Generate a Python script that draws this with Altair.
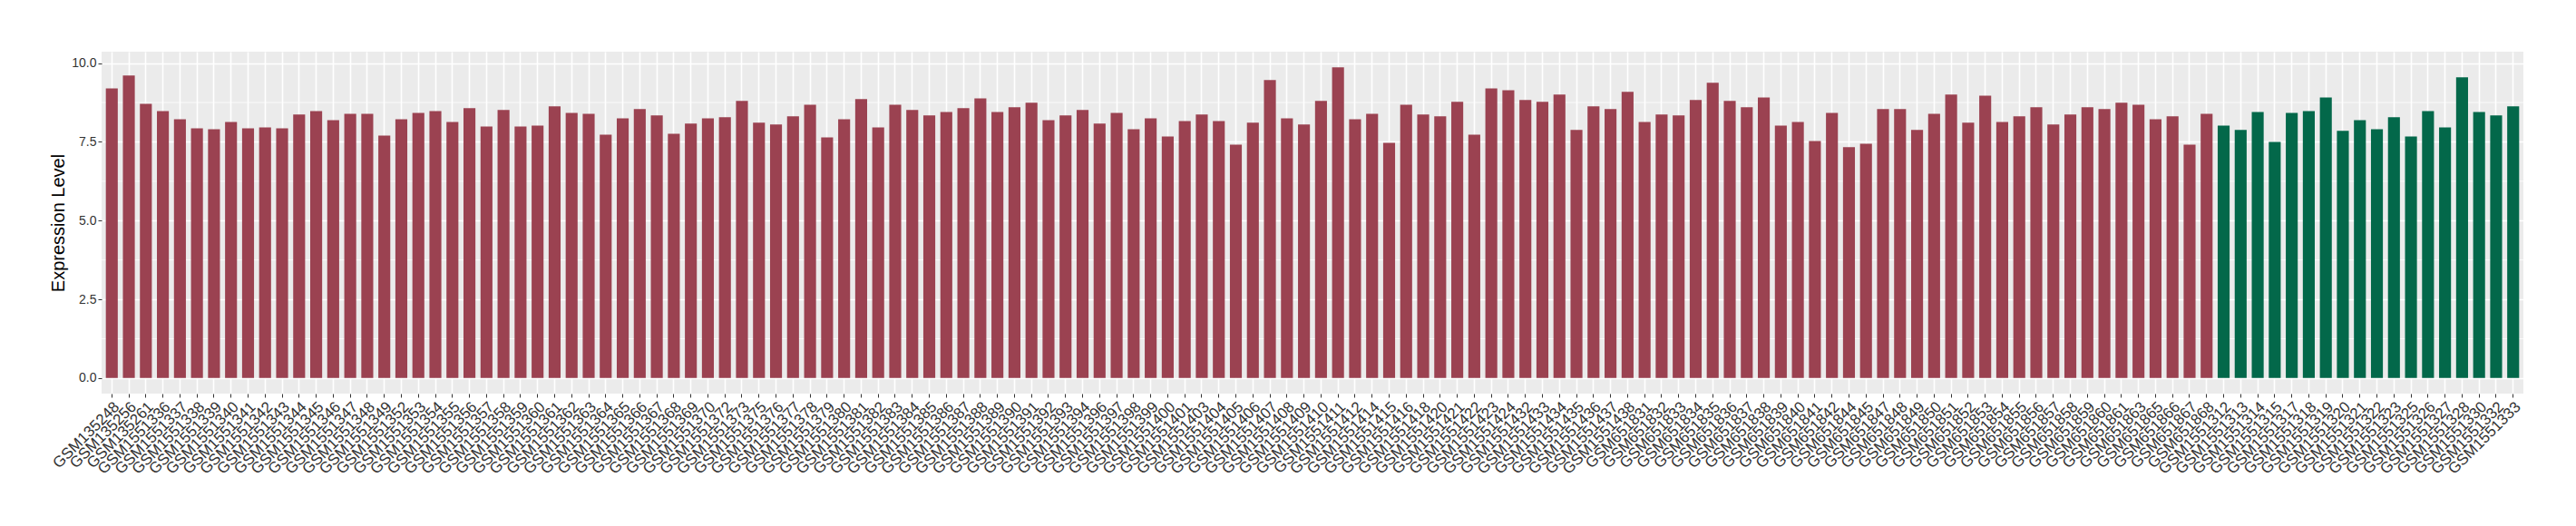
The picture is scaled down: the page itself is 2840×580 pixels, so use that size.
import altair as alt
import pandas as pd

# ---- data ----
group_a_samples = [
    "GSM135248", "GSM135256", "GSM135261", "GSM1551336", "GSM1551337", "GSM1551338",
    "GSM1551339", "GSM1551340", "GSM1551341", "GSM1551342", "GSM1551343", "GSM1551344",
    "GSM1551345", "GSM1551346", "GSM1551347", "GSM1551348", "GSM1551349", "GSM1551352",
    "GSM1551353", "GSM1551354", "GSM1551355", "GSM1551356", "GSM1551357", "GSM1551358",
    "GSM1551359", "GSM1551360", "GSM1551361", "GSM1551362", "GSM1551363", "GSM1551364",
    "GSM1551365", "GSM1551366", "GSM1551367", "GSM1551368", "GSM1551369", "GSM1551370",
    "GSM1551372", "GSM1551373", "GSM1551375", "GSM1551376", "GSM1551377", "GSM1551378",
    "GSM1551379", "GSM1551380", "GSM1551381", "GSM1551382", "GSM1551383", "GSM1551384",
    "GSM1551385", "GSM1551386", "GSM1551387", "GSM1551388", "GSM1551389", "GSM1551390",
    "GSM1551391", "GSM1551392", "GSM1551393", "GSM1551394", "GSM1551396", "GSM1551397",
    "GSM1551398", "GSM1551399", "GSM1551400", "GSM1551401", "GSM1551403", "GSM1551404",
    "GSM1551405", "GSM1551406", "GSM1551407", "GSM1551408", "GSM1551409", "GSM1551410",
    "GSM1551411", "GSM1551412", "GSM1551414", "GSM1551415", "GSM1551416", "GSM1551418",
    "GSM1551420", "GSM1551421", "GSM1551422", "GSM1551423", "GSM1551424", "GSM1551432",
    "GSM1551433", "GSM1551434", "GSM1551435", "GSM1551436", "GSM1551437", "GSM1551438",
    "GSM651831", "GSM651832", "GSM651833", "GSM651834", "GSM651835", "GSM651836",
    "GSM651837", "GSM651838", "GSM651839", "GSM651840", "GSM651841", "GSM651842",
    "GSM651844", "GSM651845", "GSM651847", "GSM651848", "GSM651849", "GSM651850",
    "GSM651851", "GSM651852", "GSM651853", "GSM651854", "GSM651855", "GSM651856",
    "GSM651857", "GSM651858", "GSM651859", "GSM651860", "GSM651861", "GSM651863",
    "GSM651865", "GSM651866", "GSM651867", "GSM651868",
]
group_a_values = [
    9.20, 9.61, 8.71, 8.48, 8.22, 7.93,
    7.90, 8.13, 7.93, 7.96, 7.93, 8.37,
    8.48, 8.19, 8.39, 8.39, 7.70, 8.22,
    8.42, 8.48, 8.13, 8.57, 7.99, 8.51,
    7.99, 8.02, 8.63, 8.42, 8.39, 7.73,
    8.25, 8.54, 8.34, 7.76, 8.08, 8.25,
    8.28, 8.80, 8.11, 8.05, 8.31, 8.68,
    7.64, 8.22, 8.86, 7.96, 8.68, 8.51,
    8.34, 8.45, 8.57, 8.88, 8.45, 8.60,
    8.74, 8.19, 8.34, 8.51, 8.08, 8.42,
    7.90, 8.25, 7.67, 8.16, 8.37, 8.16,
    7.41, 8.11, 9.46, 8.25, 8.05, 8.80,
    9.87, 8.22, 8.39, 7.47, 8.68, 8.37,
    8.31, 8.77, 7.73, 9.20, 9.14, 8.83,
    8.77, 9.00, 7.88, 8.63, 8.54, 9.09,
    8.13, 8.37, 8.34, 8.83, 9.38, 8.80,
    8.60, 8.91, 8.02, 8.13, 7.53, 8.42,
    7.33, 7.44, 8.54, 8.54, 7.88, 8.39,
    9.00, 8.11, 8.97, 8.13, 8.31, 8.60,
    8.05, 8.37, 8.60, 8.54, 8.74, 8.68,
    8.22, 8.31, 7.41, 8.39,
]
group_b_samples = [
    "GSM1551312", "GSM1551313", "GSM1551314", "GSM1551315", "GSM1551317", "GSM1551318",
    "GSM1551319", "GSM1551320", "GSM1551321", "GSM1551322", "GSM1551323", "GSM1551325",
    "GSM1551326", "GSM1551327", "GSM1551328", "GSM1551330", "GSM1551332", "GSM1551333",
]
group_b_values = [
    8.02, 7.88, 8.45, 7.50, 8.42, 8.48,
    8.91, 7.85, 8.19, 7.90, 8.28, 7.67,
    8.48, 7.96, 9.55, 8.45, 8.34, 8.63,
]
group_names = ["Group A", "Group B"]
group_colors = ["#9B4251", "#03684A"]
y_ticks = [0, 2.5, 5, 7.5, 10]
y_minor = [1.25, 3.75, 6.25, 8.75]
y_domain = [-0.4935, 10.3635]

df = pd.DataFrame({
    "sample": group_a_samples + group_b_samples,
    "value": group_a_values + group_b_values,
    "group": [group_names[0]] * len(group_a_samples) + [group_names[1]] * len(group_b_samples),
})
minor_df = pd.DataFrame({"v": y_minor})

W, H = 2670, 377
FONT = "Liberation Sans"

y_scale = alt.Scale(domain=y_domain, nice=False, zero=False)

minor = alt.Chart(minor_df).mark_rule(color="white", strokeWidth=0.8).encode(
    y=alt.Y("v:Q", scale=y_scale)
)

bars = alt.Chart(df).mark_bar().encode(
    x=alt.X(
        "sample:N",
        sort=None,
        scale=alt.Scale(paddingInner=0.3, paddingOuter=0.25),
        axis=alt.Axis(
            title=None,
            labelAngle=-45,
            labelAlign="right",
            labelBaseline="top",
            labelFont=FONT,
            labelFontSize=17,
            labelColor="#333333",
            labelPadding=2,
            labelOverlap=False,
            bandPosition=0.5,
            grid=True,
            gridColor="white",
            gridWidth=1.6,
            domain=False,
            tickColor="#333333",
            tickSize=4,
            tickWidth=1,
        ),
    ),
    y=alt.Y(
        "value:Q",
        scale=y_scale,
        axis=alt.Axis(
            values=y_ticks,
            format=".1f",
            title="Expression Level",
            titleFont=FONT,
            titleFontSize=20,
            titleFontWeight="normal",
            titleColor="black",
            titleX=-42,
            titleY=H / 2,
            titleAngle=270,
            titleAlign="center",
            titleBaseline="alphabetic",
            labelFont=FONT,
            labelFontSize=14,
            labelColor="#333333",
            labelPadding=2,
            grid=True,
            gridColor="white",
            gridWidth=1.6,
            domain=False,
            tickColor="#333333",
            tickSize=4,
            tickWidth=1,
        ),
    ),
    y2=alt.datum(0),
    color=alt.Color(
        "group:N",
        scale=alt.Scale(domain=group_names, range=group_colors),
        legend=None,
    ),
)

chart = (
    alt.layer(minor, bars)
    .properties(
        width=W,
        height=H,
        autosize=alt.AutoSizeParams(type="none"),
        padding={"left": 104, "top": 49, "right": 50, "bottom": 140},
        background="white",
    )
    .configure_view(fill="#EBEBEB", stroke=None)
)

chart.save("out.html", embed_options={"renderer": "svg", "actions": False})
